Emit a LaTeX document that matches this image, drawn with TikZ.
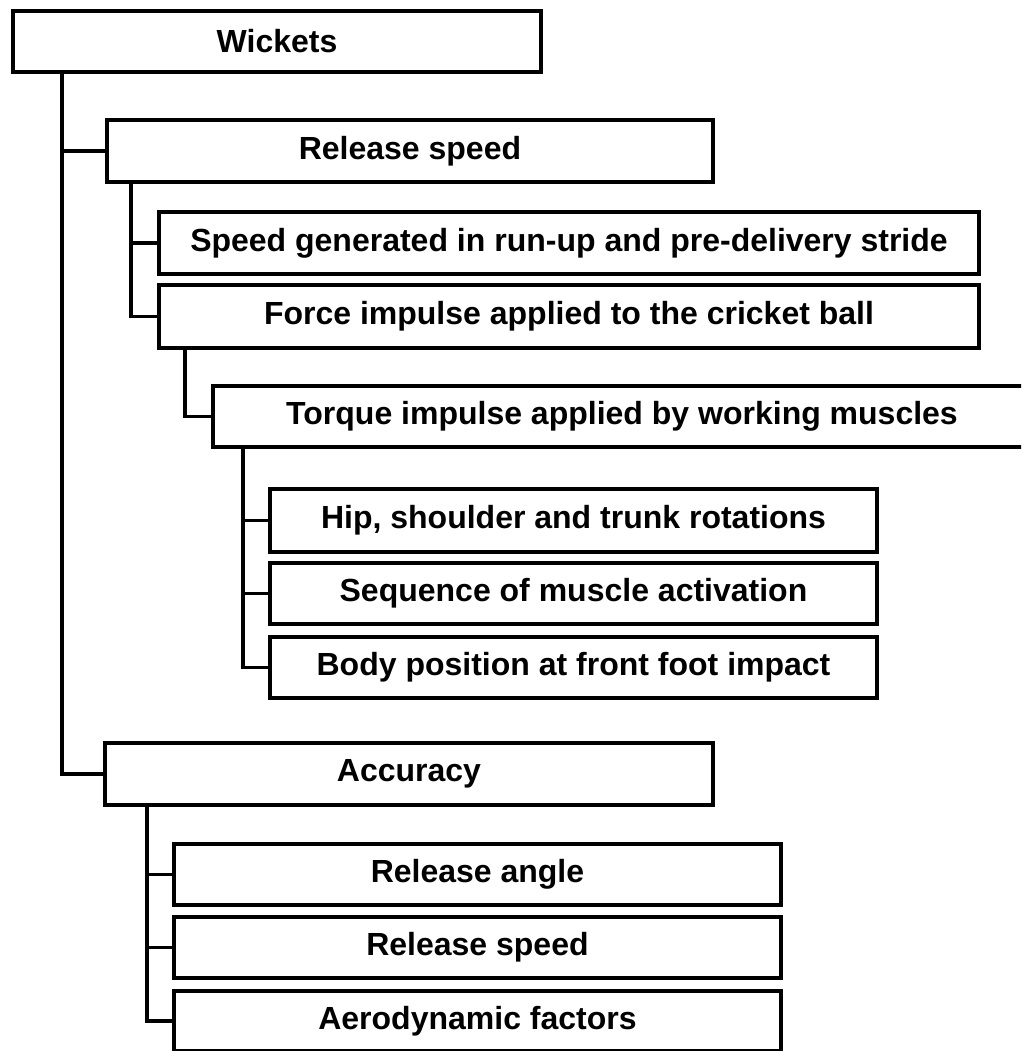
\documentclass[tikz,border=0pt]{standalone}
\usepackage{fontspec}
\setmainfont{Liberation Sans}
\begin{document}
\begin{tikzpicture}[x=1pt, y=-1pt,
		factor/.style={draw, line width=4pt, inner sep=0pt, outer sep=0pt, minimum width=607pt, minimum height=61pt, font=\fontsize{32}{38}\selectfont\bfseries},
		link/.style={line width=3.8pt}]
		
		\clip (0,0) rectangle (1021,1051);
		
		\node[factor, minimum width=528pt] (wickets) at (277,41.5) {Wickets};
		\node[factor, minimum width=606pt, minimum height=62pt] (relspeed) at (410,151) {Release speed};
		\node[factor, minimum width=820pt, minimum height=62pt] (runup) at (569,243) {Speed generated in run-up and pre-delivery stride};
		\node[factor, minimum width=820pt, minimum height=63pt] (force) at (569,316.5) {Force impulse applied to the cricket ball};
		\node[factor, minimum width=818pt] (torque) at (622,416.5) {Torque impulse applied by working muscles};
		
		\node[factor, minimum height=63pt] (hip) at (573.5,520.5) {Hip, shoulder and trunk rotations};
		\node[factor] (sequence) at (573.5,593.5) {Sequence of muscle activation};
		\node[factor] (body) at (573.5,667.5) {Body position at front foot impact};
		
		\node[factor, minimum width=608pt, minimum height=62pt] (accuracy) at (409,774) {Accuracy};
		\node[factor] (angle) at (477.5,874.5) {Release angle};
		\node[factor] (relspeedb) at (477.5,947.5) {Release speed};
		\node[factor, minimum height=60pt] (aero) at (477.5,1021) {Aerodynamic factors};
		
		\draw[link] ([xshift=49pt]wickets.south west) |- (relspeed.west);
		\draw[link] ([xshift=49pt]wickets.south west) |- (accuracy.west);
		
		\draw[link] ([xshift=24pt]relspeed.south west) |- (runup.west);
		\draw[link] ([xshift=24pt]relspeed.south west) |- (force.west);
		\draw[link] ([xshift=26pt]force.south west) |- (torque.west);
		
		\draw[link] ([xshift=30pt]torque.south west) |- (hip.west);
		\draw[link] ([xshift=30pt]torque.south west) |- (sequence.west);
		\draw[link] ([xshift=30pt]torque.south west) |- (body.west);
		
		\draw[link] ([xshift=42pt]accuracy.south west) |- (angle.west);
		\draw[link] ([xshift=42pt]accuracy.south west) |- (relspeedb.west);
		\draw[link] ([xshift=42pt]accuracy.south west) |- (aero.west);
		
	\end{tikzpicture}
\end{document}
